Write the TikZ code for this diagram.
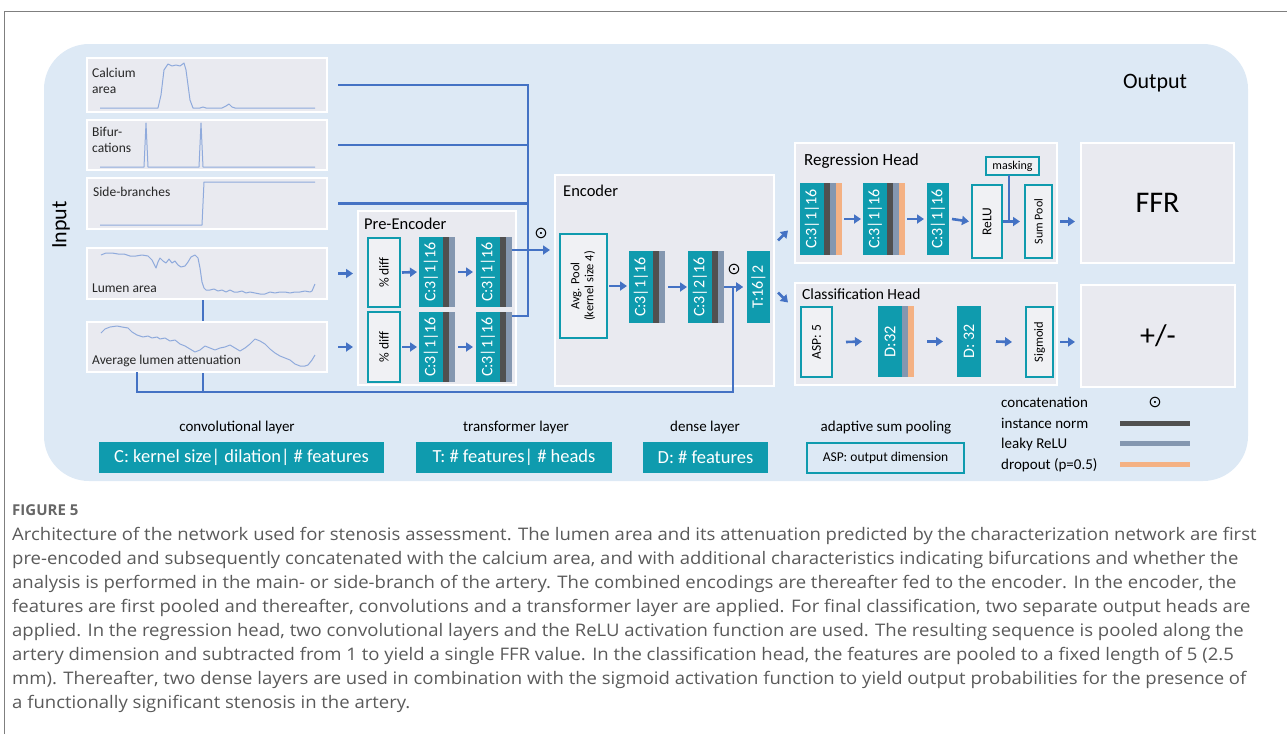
\documentclass[tikz,border=0pt]{standalone}
\usepackage{fontspec}
\usepackage{graphicx}
\setmainfont{Carlito}
\newfontfamily\capfont[FakeStretch=1.07]{Open Sans}
\newfontfamily\figfont{Open Sans}
\newfontfamily\symfont{DejaVu Sans}
\usetikzlibrary{arrows.meta}
\pgfdeclarelayer{bg}
\pgfdeclarelayer{wires}
\pgfsetlayers{bg,wires,main}

\definecolor{panelblue}{HTML}{DDE9F5}
\definecolor{boxgray}{HTML}{E9EAF0}
\definecolor{lightfill}{HTML}{F0F1F4}
\definecolor{tealc}{HTML}{0F9BAE}
\definecolor{normgray}{HTML}{505050}
\definecolor{relugray}{HTML}{8497B0}
\definecolor{dropor}{HTML}{F4B183}
\definecolor{wireblue}{HTML}{4472C4}
\definecolor{sigblue}{HTML}{8FAADC}
\definecolor{capgray}{HTML}{5A5A5A}
\definecolor{framegray}{HTML}{7F7F7F}

\newcommand\fs[2]{\fontsize{#1}{#2}\selectfont}

% layer block: teal body (24 wide) followed by 6-wide stripes for norm / activation / dropout
% #1 name, #2 x, #3 y, #4 total width, #5 height, #6 label, #7 stripe colours
\newcommand{\convblk}[7]{%
  \node[tealbox, anchor=north west, minimum width=#4, minimum height=#5] (#1) at (#2,#3) {};
  \foreach \col [count=\i] in {#7} {
    \pgfmathsetmacro\xa{24+6*(\i-1)}
    \pgfmathsetmacro\xb{24+6*\i}
    \fill[\col] ([xshift=\xa pt]#1.north west) rectangle ([xshift=\xb pt]#1.south west);
  }
  \node[blktxt] at ([xshift=12pt]#1.west) {\rotatebox{90}{#6}};
}

\begin{document}
\begin{tikzpicture}[x=1pt,y=-1pt,
  pnl/.style={draw=white, line width=2.2pt, fill=boxgray, inner sep=0pt, outer sep=0pt, anchor=north west},
  obox/.style={draw=tealc, line width=2pt, fill=lightfill, inner sep=0pt, outer sep=0pt, text=black, anchor=north west},
  tealbox/.style={fill=tealc, inner sep=0pt, outer sep=0pt, text=white},
  blktxt/.style={text=white, inner sep=0pt, font=\fs{16}{18}},
  conn/.style={draw=wireblue, line width=2.6pt},
  arr/.style={conn, -{Triangle[length=7pt,width=9pt]}},
  trace/.style={draw=sigblue, line width=1pt, line join=round},
  catsym/.style={font=\symfont\fs{16}{18}, inner sep=0pt},
  leg/.style={font=\fs{15}{18}, inner sep=0pt},
  legbox/.style={tealbox, font=\fs{18.5}{21}, anchor=north west},
  hdr/.style={font=\fs{16.5}{19}, inner sep=0pt, anchor=base west},
  plab/.style={font=\fs{13.5}{16}, inner sep=0pt, anchor=base west, text=black!85},
  capline/.style={font=\capfont\fs{17.3}{20}, text=capgray, inner sep=0pt, anchor=base west}
]
\useasboundingbox (0,0) rectangle (1287,734);

% page frame
\draw[framegray, line width=1pt] (4,734) -- (4,11) -- (1287,11);

% light blue backdrop
\begin{pgfonlayer}{bg}
  \fill[panelblue, rounded corners=45pt] (44,44) rectangle (1248,481);
\end{pgfonlayer}

\node[rotate=90, font=\fs{22}{26}, inner sep=0pt] (inlbl) at (61,225) {Input};
\node[font=\fs{22}{26}, inner sep=0pt] (outlbl) at (1155,83) {Output};

% ---------------- input signals ----------------
\node[pnl, minimum width=240, minimum height=54] (inCa) at (87,58) {};
\node[pnl, minimum width=240, minimum height=50] (inBi) at (87,120) {};
\node[pnl, minimum width=240, minimum height=51] (inSb) at (87,178) {};
\node[pnl, minimum width=240, minimum height=51] (inLu) at (87,248) {};
\node[pnl, minimum width=240, minimum height=50] (inAt) at (87,322) {};

\node[plab] at (92,77) {Calcium};
\node[plab] at (92,93) {area};
\node[plab] at (92,136) {Bifur-};
\node[plab] at (92,152) {cations};
\node[plab] at (93,196) {Side-branches};
\node[plab] at (92,292) {Lumen area};
\node[plab] at (92,364) {Average lumen attenuation};

\draw[trace] plot coordinates {(100,108) (158,108) (161,95) (164,70) (168,64) (172,66) (176,65) (180,66) (184,63) (186,70) (190,100) (193,108) (200,108) (203,107) (206,108) (222,108) (226,106) (229,104) (232,107) (235,108) (315,108)};
\draw[trace] plot coordinates {(100,167) (144,167) (146,123) (148,167) (199,167) (201,123) (203,167) (315,167)};
\draw[trace] plot coordinates {(100,225) (202,225) (204,182) (315,182)};
\draw[trace] plot coordinates {(101,255) (106,253) (112,253) (118,254) (124,254) (130,256) (136,256) (142,255) (148,256) (152,260) (156,268) (158,262) (160,258) (163,261) (166,263) (169,259) (172,263) (175,261) (178,265) (181,267) (185,266) (188,262) (191,257) (195,255) (198,258) (200,268) (202,282) (204,288) (206,290) (210,290) (214,289) (218,291) (222,290) (226,292) (230,290) (234,292) (238,292) (242,291) (246,293) (250,292) (255,293) (260,294) (265,294) (270,292) (275,293) (280,292) (285,292) (290,293) (295,292) (300,292) (305,291) (310,292) (312,291) (315,284)};
\draw[trace] plot coordinates {(101,333) (105,329) (110,327) (117,326) (122,327) (128,328) (132,332) (137,335) (143,337) (148,336) (152,338) (157,337) (160,339) (165,338) (170,341) (175,340) (180,344) (185,346) (190,349) (195,352) (200,350) (205,346) (210,348) (215,350) (220,348) (225,347) (230,345) (235,348) (240,351) (245,348) (250,344) (255,339) (260,341) (265,344) (270,349) (275,353) (280,356) (285,358) (290,360) (295,364) (300,366) (305,366) (308,365) (312,360) (315,355)};

% ---------------- pre-encoder ----------------
\node[pnl, minimum width=158, minimum height=174] (pre) at (358,211) {};
\node[hdr] at (364,229) {Pre-Encoder};
\node[obox, minimum width=32, minimum height=69, font=\fs{13.5}{15}] (pd1) at (368,238) {\rotatebox{90}{\% diff}};
\node[obox, minimum width=32, minimum height=70, font=\fs{13.5}{15}] (pd2) at (368,312) {\rotatebox{90}{\% diff}};
\convblk{pc1}{419}{237}{36}{70}{C:3|1|16}{normgray,relugray}
\convblk{pc2}{476}{237}{36}{70}{C:3|1|16}{normgray,relugray}
\convblk{pc3}{419}{312}{36}{70}{C:3|1|16}{normgray,relugray}
\convblk{pc4}{476}{312}{36}{70}{C:3|1|16}{normgray,relugray}

% ---------------- encoder ----------------
\node[pnl, minimum width=219, minimum height=211] (enc) at (555,175) {};
\node[hdr] at (563,196) {Encoder};
\node[obox, minimum width=47, minimum height=104, font=\fs{12.5}{14}] (avg) at (560,234)
  {\rotatebox{90}{\begin{tabular}{@{}c@{}}Avg. Pool\\(kernel size 4)\end{tabular}}};
\convblk{ec1}{629}{251}{36}{72}{C:3|1|16}{normgray,relugray}
\convblk{ec2}{688}{251}{36}{72}{C:3|2|16}{normgray,relugray}
\node[tealbox, anchor=north west, minimum width=23, minimum height=72, font=\fs{16}{18}] (tf) at (747,251) {\rotatebox{90}{T:16|2}};

% ---------------- regression head ----------------
\node[pnl, minimum width=262, minimum height=120] (reg) at (795,143) {};
\node[hdr, font=\fs{17}{19}] at (804,165) {Regression Head};
\convblk{rc1}{800}{183}{42}{72}{C:3|1|16}{normgray,relugray,dropor}
\convblk{rc2}{863}{183}{42}{72}{C:3|1|16}{normgray,relugray,dropor}
\node[tealbox, anchor=north west, minimum width=22, minimum height=72, font=\fs{16}{18}] (rc3) at (927,183) {\rotatebox{90}{C:3|1|16}};
\node[obox, minimum width=30, minimum height=73, font=\fs{13.5}{15}] (relu) at (972,185) {\rotatebox{90}{ReLU}};
\node[obox, minimum width=53, minimum height=18, font=\fs{12}{13}] (mask) at (986,157) {masking};
\node[obox, minimum width=27, minimum height=73, font=\fs{12}{13}] (sump) at (1025,185) {\rotatebox{90}{Sum Pool}};

% ---------------- classification head ----------------
\node[pnl, minimum width=262, minimum height=102] (cls) at (795,283) {};
\node[hdr, font=\fs{15.5}{18}] at (802,299) {Classification Head};
\node[obox, minimum width=31, minimum height=70, font=\fs{13.5}{15}] (asp) at (801,307) {\rotatebox{90}{ASP: 5}};
\convblk{cd1}{878}{306}{36}{71}{\fs{16.5}{18}D:32}{relugray,dropor}
\node[tealbox, anchor=north west, minimum width=24, minimum height=71, font=\fs{16}{18}] (cd2) at (957,306) {\rotatebox{90}{D: 32}};
\node[obox, minimum width=27, minimum height=70, font=\fs{12.5}{14}] (sig) at (1026,307) {\rotatebox{90}{Sigmoid}};

% ---------------- outputs ----------------
\node[pnl, minimum width=153, minimum height=120, font=\fs{30}{34}] (ffr) at (1081,143) {FFR};
\node[pnl, minimum width=154, minimum height=102, font=\fs{30}{34}] (pm) at (1081,285) {+/-};

% ---------------- connectors ----------------
\coordinate (skp) at (733,392);
\coordinate (luBot) at ([xshift=-4pt]inLu.south);
\begin{pgfonlayer}{wires}
  \draw[conn] (luBot) -- (luBot |- skp);
\end{pgfonlayer}

% concatenation bus into the encoder
\draw[conn] ([xshift=11pt]inCa.east) -| ([shift={(16pt,-4pt)}]pc4.north east) -- ([yshift=-4pt]pc4.north east);
\draw[conn] ([xshift=11pt]inBi.east) -- ++(190,0);
\draw[conn] ([xshift=11pt]inSb.east) -- ++(190,0);
\draw[arr] ([yshift=-13pt]pc2.north east) -- ++(38,0);
\node[catsym] (cat1) at (541,233) {⊙};

% pre-encoder flow
\draw[arr] ([xshift=11pt]inLu.east) -- ++(15,0);
\draw[arr] ([xshift=11pt]inAt.east) -- ++(15,0);
\draw[arr] ([xshift=2pt]pd1.east) -- ([xshift=-2pt]pc1.west);
\draw[arr] ([xshift=2pt]pd2.east) -- ([xshift=-2pt]pc3.west);
\draw[arr] ([xshift=3pt]pc1.east) -- ([xshift=-3pt]pc2.west);
\draw[arr] ([xshift=3pt]pc3.east) -- ([xshift=-3pt]pc4.west);

% encoder flow with skip connection from the raw lumen signals
\draw[arr] ([xshift=2pt]avg.east) -- ++(18,0);
\draw[arr] ([xshift=3pt]ec1.east) -- ([xshift=-1pt]ec2.west);
\draw[arr] ([xshift=50pt]inAt.south west) |- (skp) |- ([xshift=-4pt]tf.west);
\draw[arr] (ec2.east) -- ([xshift=-4pt]tf.west);
\node[catsym] (cat2) at (734,269) {⊙};

% split to the two heads
\draw[arr] ([shift={(4,-40)}]enc.east) -- ++(10,-10);
\draw[arr] ([shift={(4,12)}]enc.east) -- ++(10,10);

% regression head flow
\draw[arr] ([xshift=2pt]rc1.east) -- ([xshift=-2pt]rc2.west);
\draw[arr] ([xshift=2pt]rc2.east) -- ([xshift=-3pt]rc3.west);
\draw[arr] ([xshift=3pt]rc3.east) -- ([xshift=-3pt]relu.west);
\draw[arr] ([xshift=1pt]relu.east) -- ([xshift=-5pt]sump.west);
\draw[conn] ([xshift=-3.5pt]mask.south) -- ++(0,45);
\draw[arr] ([xshift=8pt]sump.east) -- ++(15,0);

% classification head flow
\draw[arr] ([xshift=14pt]asp.east) -- ([xshift=-16pt]cd1.west);
\draw[arr] ([xshift=13pt]cd1.east) -- ([xshift=-14pt]cd2.west);
\draw[arr] ([xshift=15pt]cd2.east) -- ([xshift=-14pt]sig.west);
\draw[arr] ([xshift=7pt]sig.east) -- ++(15,0);

% ---------------- legend ----------------
\node[leg, anchor=base] at (237,431) {convolutional layer};
\node[legbox, minimum width=285, minimum height=31] (lc) at (99,442) {C: kernel size| dilation| \# features};
\node[leg, anchor=base] at (516,431) {transformer layer};
\node[legbox, minimum width=196, minimum height=31] (lt) at (416,442) {T: \# features| \# heads};
\node[leg, anchor=base] at (705,431) {dense layer};
\node[legbox, minimum width=125, minimum height=31] (ld) at (643,442) {D: \# features};
\node[leg, anchor=base] at (886,431) {adaptive sum pooling};
\node[obox, fill=panelblue, minimum width=157, minimum height=30, font=\fs{13.5}{15}] (la) at (807,443) {ASP: output dimension};

\node[leg, anchor=base west] at (1001,407) {concatenation};
\node[leg, anchor=base west] at (1001,428) {instance norm};
\node[leg, anchor=base west] at (1001,448) {leaky ReLU};
\node[leg, anchor=base west] at (1001,469) {dropout (p=0.5)};
\node[catsym] (cat3) at (1155,402) {⊙};
\fill[normgray] (1120,421) rectangle (1190,426);
\fill[relugray] (1120,441) rectangle (1190,446);
\fill[dropor] (1120,462) rectangle (1190,467);

% ---------------- caption ----------------
\node[capline, font=\figfont\bfseries\fs{15}{17}, text=black!60] at (12,515) {FIGURE 5};
\node[capline] at (12,540) {Architecture of the network used for stenosis assessment. The lumen area and its attenuation predicted by the characterization network are first};
\node[capline] at (12,564) {pre-encoded and subsequently concatenated with the calcium area, and with additional characteristics indicating bifurcations and whether the};
\node[capline] at (12,588) {analysis is performed in the main- or side-branch of the artery. The combined encodings are thereafter fed to the encoder. In the encoder, the};
\node[capline] at (12,612) {features are first pooled and thereafter, convolutions and a transformer layer are applied. For final classification, two separate output heads are};
\node[capline] at (12,636) {applied. In the regression head, two convolutional layers and the ReLU activation function are used. The resulting sequence is pooled along the};
\node[capline] at (12,660) {artery dimension and subtracted from 1 to yield a single FFR value. In the classification head, the features are pooled to a fixed length of 5 (2.5};
\node[capline] at (12,684) {mm). Thereafter, two dense layers are used in combination with the sigmoid activation function to yield output probabilities for the presence of};
\node[capline] at (12,708) {a functionally significant stenosis in the artery.};
\end{tikzpicture}
\end{document}
